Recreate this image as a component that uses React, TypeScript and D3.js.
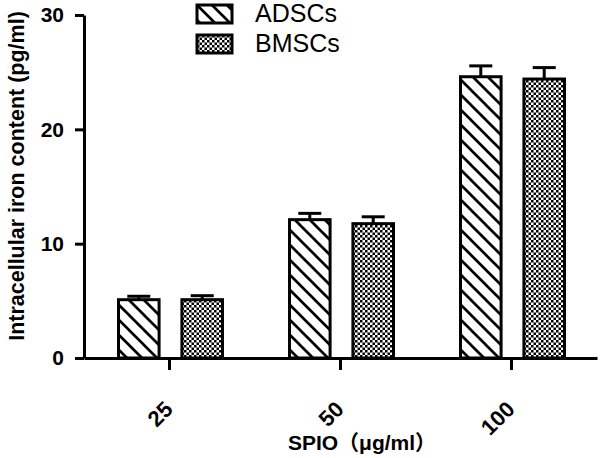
import { useEffect, useRef } from 'react';
import * as d3 from 'd3';

const categories = ['25', '50', '100'];
const seriesNames = ['ADSCs', 'BMSCs'];
const adscValues = [5.1, 12.1, 24.6];
const adscErrors = [0.3, 0.55, 0.95];
const bmscValues = [5.1, 11.75, 24.4];
const bmscErrors = [0.35, 0.6, 1.0];
const yTicks = [0, 10, 20, 30];

const FONT = '"Liberation Sans", Arial, "Noto Sans CJK SC", sans-serif';

export default function App() {
  const svgRef = useRef<SVGSVGElement | null>(null);

  useEffect(() => {
    const width = 600;
    const height = 458;
    const svg = d3.select(svgRef.current);
    svg.selectAll('*').remove();
    svg.attr('width', width).attr('height', height).attr('viewBox', `0 0 ${width} ${height}`);

    // fill patterns: diagonal hatching and fine checkerboard
    const defs = svg.append('defs');
    const hatch = defs.append('pattern')
      .attr('id', 'hatch')
      .attr('patternUnits', 'userSpaceOnUse')
      .attr('width', 15)
      .attr('height', 15);
    hatch.append('rect').attr('width', 15).attr('height', 15).attr('fill', '#fff');
    hatch.append('path')
      .attr('d', 'M0,0L15,15M-4,11L4,19M11,-4L19,4')
      .attr('stroke', '#000')
      .attr('stroke-width', 2.7);

    const checker = defs.append('pattern')
      .attr('id', 'checker')
      .attr('patternUnits', 'userSpaceOnUse')
      .attr('width', 5)
      .attr('height', 5);
    checker.append('rect').attr('width', 5).attr('height', 5).attr('fill', '#fff');
    checker.append('rect').attr('width', 2.5).attr('height', 2.5).attr('fill', '#000');
    checker.append('rect').attr('x', 2.5).attr('y', 2.5).attr('width', 2.5).attr('height', 2.5).attr('fill', '#000');

    const fills = ['url(#hatch)', 'url(#checker)'];

    const x0 = d3.scaleBand().domain(categories).range([84, 597]);
    const x1 = d3.scaleBand().domain(seriesNames).range([34.5, 138.5]).paddingInner(0.36);
    const y = d3.scaleLinear().domain([0, 30]).range([358, 15]);

    const rows = categories.map((c, i) => ({
      category: c,
      items: [
        { name: seriesNames[0], value: adscValues[i], err: adscErrors[i], fill: fills[0] },
        { name: seriesNames[1], value: bmscValues[i], err: bmscErrors[i], fill: fills[1] },
      ],
    }));

    const groups = svg.append('g')
      .selectAll('g')
      .data(rows)
      .join('g')
      .attr('transform', (d) => `translate(${x0(d.category)},0)`);

    const items = groups.selectAll('g')
      .data((d) => d.items)
      .join('g');

    // error bars (upper only)
    items.append('line')
      .attr('x1', (d) => x1(d.name)! + x1.bandwidth() / 2)
      .attr('x2', (d) => x1(d.name)! + x1.bandwidth() / 2)
      .attr('y1', (d) => y(d.value))
      .attr('y2', (d) => y(d.value + d.err))
      .attr('stroke', '#000')
      .attr('stroke-width', 3);
    items.append('line')
      .attr('x1', (d) => x1(d.name)! + x1.bandwidth() / 2 - 11.5)
      .attr('x2', (d) => x1(d.name)! + x1.bandwidth() / 2 + 11.5)
      .attr('y1', (d) => y(d.value + d.err))
      .attr('y2', (d) => y(d.value + d.err))
      .attr('stroke', '#000')
      .attr('stroke-width', 3);

    items.append('rect')
      .attr('x', (d) => x1(d.name)!)
      .attr('y', (d) => y(d.value))
      .attr('width', x1.bandwidth())
      .attr('height', (d) => y(0) - y(d.value))
      .attr('fill', (d) => d.fill)
      .attr('stroke', '#000')
      .attr('stroke-width', 3);

    // y axis
    const yAxis = svg.append('g')
      .attr('transform', 'translate(84,0)')
      .call(d3.axisLeft(y).tickValues(yTicks).tickSize(9).tickSizeOuter(0).tickPadding(11));
    yAxis.select('.domain').attr('stroke-width', 3);
    yAxis.selectAll('.tick line').attr('stroke-width', 3);
    yAxis.selectAll('text')
      .attr('font-family', FONT)
      .attr('font-weight', 'bold')
      .attr('font-size', 21)
      .attr('fill', '#000');

    // x axis
    const xAxis = svg.append('g')
      .attr('transform', 'translate(0,358)')
      .call(d3.axisBottom(x0).tickSize(12).tickSizeOuter(0).tickPadding(8));
    xAxis.select('.domain').attr('stroke-width', 3);
    xAxis.selectAll('.tick line').attr('stroke-width', 3);
    xAxis.selectAll('text')
      .attr('font-family', FONT)
      .attr('font-weight', 'bold')
      .attr('font-size', 22)
      .attr('fill', '#000')
      .attr('text-anchor', 'end')
      .attr('dy', '0.35em')
      .attr('transform', 'translate(-15,33) rotate(-45)');

    // axis titles
    svg.append('text')
      .attr('transform', 'translate(24,176) rotate(-90)')
      .attr('text-anchor', 'middle')
      .attr('font-family', FONT)
      .attr('font-weight', 'bold')
      .attr('font-size', 21.5)
      .text('Intracellular iron content (pg/ml)');

    svg.append('text')
      .attr('x', 362)
      .attr('y', 450)
      .attr('text-anchor', 'middle')
      .attr('font-family', FONT)
      .attr('font-weight', 'bold')
      .attr('font-size', 21)
      .text('SPIO（μg/ml）');

    // legend
    const legend = svg.append('g')
      .selectAll('g')
      .data(seriesNames)
      .join('g')
      .attr('transform', (_, i) => `translate(197,${5 + i * 30})`);
    legend.append('rect')
      .attr('width', 35)
      .attr('height', 18)
      .attr('fill', (_, i) => fills[i])
      .attr('stroke', '#000')
      .attr('stroke-width', 3);
    legend.append('text')
      .attr('x', 58)
      .attr('y', 17)
      .attr('font-family', FONT)
      .attr('font-size', 25)
      .text((d) => d);
  }, []);

  return <svg ref={svgRef} style={{ position: 'absolute', left: 0, top: 0 }} />;
}
